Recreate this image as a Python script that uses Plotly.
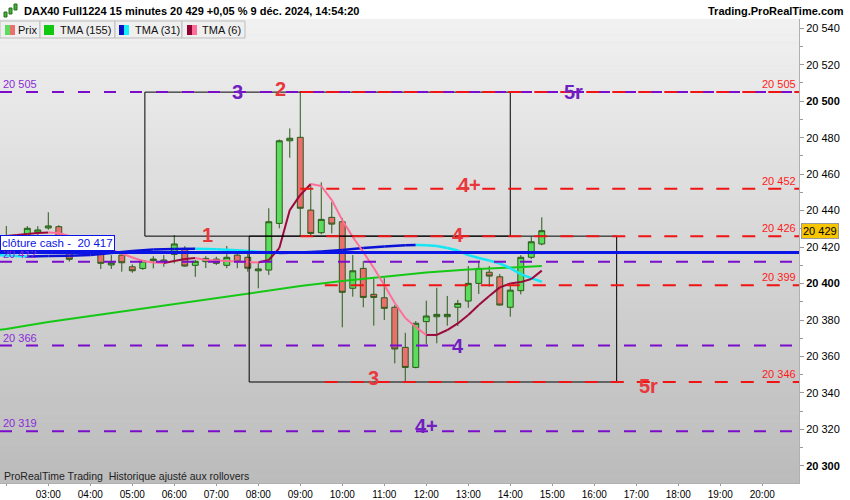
import plotly.graph_objects as go
import pandas as pd

DAY = "2024-12-09 "

# Bougies 15 minutes - DAX40 Full1224
candle_times = pd.date_range(DAY + "02:00", DAY + "14:45", freq="15min")
opens = [20425, 20421, 20423, 20428.1, 20430.5, 20431.2, 20421, 20419, 20420, 20416.6,
         20410.2, 20415.6, 20409.2, 20408.3, 20412.5, 20411.8, 20416, 20419.3, 20410, 20412,
         20413.4, 20410, 20415.6, 20414.4, 20407, 20407.4, 20433, 20478.3, 20480.2, 20440.3,
         20427.9, 20436.3, 20433.9, 20397.4, 20408.3, 20394.1, 20392.2, 20387, 20365, 20354,
         20379.1, 20381.8, 20381.8, 20387, 20390.4, 20400.1, 20406.2, 20403.7, 20387, 20396.1,
         20414.4, 20421.7]
highs = [20431.6, 20424, 20431.5, 20431.5, 20439.1, 20432, 20422, 20423, 20423, 20418.5,
         20415.6, 20417.3, 20410.5, 20413, 20415, 20415.6, 20426.6, 20420.5, 20413, 20415,
         20414.7, 20420.6, 20416.5, 20416.6, 20411.1, 20441.3, 20479, 20485.1, 20505.6, 20454,
         20455.5, 20444.6, 20435.9, 20415.6, 20412.4, 20402.5, 20403, 20388.2, 20373, 20379.4,
         20390.6, 20397.7, 20393.2, 20391, 20409.6, 20412.5, 20409.6, 20405.2, 20399.2, 20415.6,
         20425.7, 20436.3]
lows = [20419, 20419, 20421, 20425.7, 20429.5, 20419, 20412, 20415.5, 20418.5, 20408,
        20408, 20406.5, 20405.9, 20407.5, 20408.3, 20409.2, 20411.1, 20409.2, 20403.7, 20408.5,
        20410.2, 20408.4, 20408.4, 20406.5, 20397.4, 20404.7, 20430.3, 20469, 20426.1, 20426,
        20427, 20427.5, 20376, 20392.8, 20387, 20376.9, 20380, 20356.2, 20346.1, 20353.5,
        20366.8, 20367.2, 20376.9, 20376.7, 20386.7, 20394.3, 20398.3, 20388, 20381.8, 20394.1,
        20413.5, 20421]
closes = [20421, 20423, 20430.3, 20429.4, 20431.6, 20420, 20413.3, 20421, 20419, 20411.1,
          20411.4, 20411.4, 20407, 20412.4, 20413.4, 20412.9, 20421.7, 20409.6, 20412.2, 20413.8,
          20411.1, 20414.4, 20412, 20408.4, 20408, 20433.9, 20478.3, 20479.7, 20441.3, 20427.5,
          20435.2, 20432.6, 20395.2, 20407, 20392.4, 20392.4, 20386.4, 20364.1, 20354, 20378.2,
          20382.2, 20383.1, 20383.1, 20389.1, 20400.1, 20408.3, 20404.1, 20388.2, 20396.4, 20414.4,
          20422.9, 20429]

# Moyennes mobiles triangulaires
tma155_times = ["01:45", "02:00", "03:00", "04:00", "05:00", "06:00", "07:00", "08:00",
                "09:00", "10:00", "11:00", "12:00", "13:00", "14:00", "14:45"]
tma155 = [20374.3, 20375.1, 20378.9, 20382.2, 20385.5, 20388.8, 20392.1, 20395.3,
          20398.6, 20401.4, 20403.9, 20406.0, 20407.7, 20408.8, 20409.6]

tma31_times = ["01:45", "02:00", "02:30", "03:00", "03:30", "04:00", "04:30", "05:00", "05:30",
               "06:00", "06:30", "07:00", "07:30", "08:00", "08:30", "09:00", "09:30", "10:00",
               "10:30", "11:00", "11:30", "11:45", "12:00", "12:15", "12:30", "12:45", "13:00",
               "13:15", "13:30", "13:45", "14:00", "14:15", "14:30", "14:45"]
tma31 = [20415.6, 20415.4, 20414.9, 20415.1, 20415.2, 20415.6, 20416.7, 20417.8, 20418.7,
         20418.9, 20419.1, 20418.8, 20418.2, 20417.5, 20416.7, 20417.0, 20417.6, 20418.4,
         20419.5, 20420.3, 20421.0, 20421.1, 20421.0, 20420.6, 20419.5, 20418.1, 20415.6,
         20414.0, 20412.6, 20411.0, 20408.5, 20405.2, 20403.0, 20401.0]

tma6_times = pd.date_range(DAY + "01:45", DAY + "14:45", freq="15min")
tma6 = [20425.0, 20426.1, 20426.6, 20427.2, 20427.7, 20428.0, 20427.7, 20426.1, 20424.2,
        20422.3, 20420.3, 20418.6, 20416.5, 20414.3, 20412.4, 20411.5, 20411.3, 20412.4,
        20413.4, 20414.0, 20412.9, 20412.6, 20412.4, 20412.1, 20411.8, 20411.5, 20412.9,
        20419.4, 20440.3, 20448.6, 20454.6, 20453.5, 20445.8, 20434.8, 20425.5, 20417.3,
        20408.5, 20399.2, 20389.3, 20381.1, 20376.1, 20371.8, 20371.8, 20374.5, 20378.1,
        20382.7, 20388.2, 20393.2, 20397.9, 20400.0, 20400.8, 20402.5, 20407.1]

# Niveaux et zones
purple_levels = [20505, 20412, 20366, 20319]
red_levels = [20505, 20452, 20426, 20399, 20346]
red_starts = ["09:00", "09:00", "09:00", "09:35", "09:35"]
close_cash = 20417
last_price = 20429
box_x0 = ["05:18", "07:47"]
box_x1 = ["14:00", "16:32"]
box_low = [20426, 20346]
box_high = [20505, 20426]

red_wave_text = ["1", "2", "3", "4", "4+", "5r"]
red_wave_time = ["06:47", "08:32", "10:45", "12:45", "13:02", "17:17"]
red_wave_price = [20426.6, 20506.8, 20348, 20426.9, 20454, 20344]
purple_wave_text = ["3", "4", "4+", "5r"]
purple_wave_time = ["07:30", "12:45", "12:01", "15:31"]
purple_wave_price = [20505, 20366, 20322, 20505]

hours = pd.date_range(DAY + "02:00", DAY + "20:00", freq="1h")
hour_labels = [""] + [h.strftime("%H:%M") for h in hours[1:]]
y_ticks = list(range(20300, 20541, 20))

FONT = "Liberation Sans, Arial, sans-serif"
RED = "#F01414"
RED_TXT = "#E8383C"
PURPLE = "#7A0CCB"


def fmt(v):
    return f"{v:,}".replace(",", " ")


def px(X):
    return X / 799


def py(Y):
    return (483 - Y) / 464


def t(hm):
    return DAY + hm


def split_trend(xs, ys):
    up_x, up_y, dn_x, dn_y = [], [], [], []
    for i in range(1, len(ys)):
        if ys[i] >= ys[i - 1]:
            up_x += [xs[i - 1], xs[i], None]
            up_y += [ys[i - 1], ys[i], None]
        else:
            dn_x += [xs[i - 1], xs[i], None]
            dn_y += [ys[i - 1], ys[i], None]
    return up_x, up_y, dn_x, dn_y


fig = go.Figure()

fig.add_trace(go.Candlestick(
    x=candle_times, open=opens, high=highs, low=lows, close=closes,
    increasing=dict(fillcolor="#5CDC5C", line=dict(color="#2B5A18", width=1)),
    decreasing=dict(fillcolor="#EC6F6F", line=dict(color="#2B5A18", width=1)),
    whiskerwidth=0, name="Prix"))

fig.add_trace(go.Scatter(x=[t(h) for h in tma155_times], y=tma155, mode="lines",
                         line=dict(color="#14C814", width=2), name="TMA (155)"))

ux, uy, dx, dy = split_trend([t(h) for h in tma31_times], tma31)
fig.add_trace(go.Scatter(x=ux, y=uy, mode="lines", line=dict(color="#0A12D8", width=2.5)))
fig.add_trace(go.Scatter(x=dx, y=dy, mode="lines", line=dict(color="#14E6F5", width=2.5)))

ux, uy, dx, dy = split_trend(list(tma6_times), tma6)
fig.add_trace(go.Scatter(x=ux, y=uy, mode="lines", line=dict(color="#9A0A3A", width=2)))
fig.add_trace(go.Scatter(x=dx, y=dy, mode="lines", line=dict(color="#FF6E98", width=2)))

shapes = []
# fond en dégradé
n_bands = 60
for i in range(n_bands):
    c = int(241 - 53 * i / (n_bands - 1))
    shapes.append(dict(type="rect", xref="paper", yref="paper", x0=0, x1=1,
                       y0=1 - (i + 1.05) / n_bands, y1=1 - i / n_bands,
                       fillcolor=f"rgb({c},{c},{c})", line_width=0, layer="below"))

for x0, x1, lo, hi in zip(box_x0, box_x1, box_low, box_high):
    shapes.append(dict(type="rect", xref="x", yref="y", x0=t(x0), x1=t(x1), y0=lo, y1=hi,
                       line=dict(color="black", width=1)))

for lvl in purple_levels:
    shapes.append(dict(type="line", xref="paper", yref="y", x0=0, x1=1, y0=lvl, y1=lvl,
                       line=dict(color=PURPLE, width=2, dash="12px,14px")))
for lvl, st in zip(red_levels, red_starts):
    shapes.append(dict(type="line", xref="x", yref="y", x0=t(st), x1=t("20:53"), y0=lvl, y1=lvl,
                       line=dict(color=RED, width=2, dash="13px,13px")))
shapes.append(dict(type="line", xref="paper", yref="y", x0=0, x1=1, y0=close_cash, y1=close_cash,
                   line=dict(color="#0A14E6", width=3)))

# onglets de légende
tab_edges = [0, 40, 115, 182, 245]
for a, b in zip(tab_edges[:-1], tab_edges[1:]):
    shapes.append(dict(type="rect", xref="paper", yref="paper", x0=px(a), x1=px(b),
                       y0=py(38), y1=py(21), fillcolor="#EFEFEF",
                       line=dict(color="#BDBDBD", width=1)))

# petite icône
for xa, ya, yb in [(4, 12, 17), (9, 8, 14), (14, 4, 10)]:
    shapes.append(dict(type="rect", xref="paper", yref="paper", x0=px(xa), x1=px(xa + 3),
                       y0=py(yb), y1=py(ya), fillcolor="#3CB43C", line=dict(color="#2B6A18", width=1)))

annotations = []
for txt, tm, pr in zip(red_wave_text, red_wave_time, red_wave_price):
    annotations.append(dict(x=t(tm), y=pr, text=f"<b>{txt}</b>", showarrow=False,
                            font=dict(family=FONT, size=20, color=RED_TXT)))
for txt, tm, pr in zip(purple_wave_text, purple_wave_time, purple_wave_price):
    annotations.append(dict(x=t(tm), y=pr, text=f"<b>{txt}</b>", showarrow=False,
                            font=dict(family=FONT, size=20, color="#7020C0")))

for lvl in purple_levels:
    annotations.append(dict(xref="paper", x=px(2), y=lvl, xanchor="left", yanchor="bottom",
                            yshift=1, text=fmt(lvl), showarrow=False, borderpad=0,
                            font=dict(family=FONT, size=11, color="#8A2BD8")))
for lvl in red_levels:
    annotations.append(dict(xref="paper", x=px(797), y=lvl, xanchor="right", yanchor="bottom",
                            yshift=1, text=fmt(lvl), showarrow=False, borderpad=0,
                            font=dict(family=FONT, size=11, color="#FF1A1A")))

annotations.append(dict(xref="paper", x=0, y=close_cash, xanchor="left", yanchor="bottom",
                        yshift=2, text="clôture cash -  " + fmt(close_cash), showarrow=False,
                        bgcolor="white", bordercolor="#0A14E6", borderwidth=1, borderpad=1,
                        font=dict(family=FONT, size=11.5, color="#0A14E6")))
annotations.append(dict(xref="paper", x=px(801), y=last_price, xanchor="left", yanchor="middle",
                        text=fmt(last_price), showarrow=False, bgcolor="#F7C600",
                        bordercolor="#9A9A9A", borderwidth=1, borderpad=1,
                        font=dict(family=FONT, size=11, color="black")))

annotations.append(dict(xref="paper", yref="paper", x=px(22), y=py(11), xanchor="left",
                        yanchor="middle", showarrow=False,
                        text="<b>DAX40 Full1224 15 minutes 20 429 +0,05 % 9 déc. 2024, 14:54:20</b>",
                        font=dict(family=FONT, size=11, color="black")))
annotations.append(dict(xref="paper", yref="paper", x=px(846), y=py(11), xanchor="right",
                        yanchor="middle", showarrow=False, text="<b>Trading.ProRealTime.com</b>",
                        font=dict(family=FONT, size=11, color="black")))
for xl, txt in [(16, "Prix"), (58, "TMA (155)"), (133, "TMA (31)"), (200, "TMA (6)")]:
    annotations.append(dict(xref="paper", yref="paper", x=px(xl), y=py(30), xanchor="left",
                            yanchor="middle", showarrow=False, text=txt,
                            font=dict(family=FONT, size=11, color="#111")))
annotations.append(dict(xref="paper", yref="paper", x=px(2), y=py(476), xanchor="left",
                        yanchor="middle", showarrow=False,
                        text="ProRealTime Trading  Historique ajusté aux rollovers",
                        font=dict(family=FONT, size=10.5, color="#222")))

# pastilles de couleur des onglets
swatches = [(5, 10, "#5CDC5C"), (10, 15, "#EC6F6F"), (44, 54, "#10C810"),
            (119, 124, "#0A12C8"), (124, 129, "#14F0FF"), (187, 192, "#900033"), (192, 197, "#FF6E98")]
for a, b, col in swatches:
    shapes.append(dict(type="rect", xref="paper", yref="paper", x0=px(a), x1=px(b),
                       y0=py(35), y1=py(25), fillcolor=col, line_width=0))

fig.update_layout(
    width=850, height=500,
    margin=dict(l=0, r=51, t=19, b=17),
    paper_bgcolor="white", plot_bgcolor="#D8D8D8",
    showlegend=False, boxgap=0.2,
    font=dict(family=FONT, size=11, color="black"),
    shapes=shapes, annotations=annotations,
    xaxis=dict(type="date", range=[t("01:51"), t("20:52:30")], rangeslider=dict(visible=False),
               tickmode="array", tickvals=list(hours), ticktext=hour_labels, automargin=False,
               ticks="outside", ticklen=2, tickcolor="#999", showgrid=False,
               showline=True, linecolor="#B0B0B0", tickfont=dict(size=10)),
    yaxis=dict(side="right", range=[20290.6, 20545.1], tickmode="array", tickvals=y_ticks,
               ticktext=[f"<b>{fmt(v)}</b>" if v % 100 == 0 else fmt(v) for v in y_ticks],
               ticks="outside", ticklen=4, tickcolor="#999", showgrid=False, zeroline=False,
               showline=True, linecolor="#B0B0B0", tickfont=dict(size=11), automargin=False,
               minor=dict(tickmode="linear", tick0=20290, dtick=10, ticks="outside",
                          ticklen=3, tickcolor="#999")),
)

fig.write_html("out.html", config={"displayModeBar": False},
               post_script="document.body.style.margin='0px';")
